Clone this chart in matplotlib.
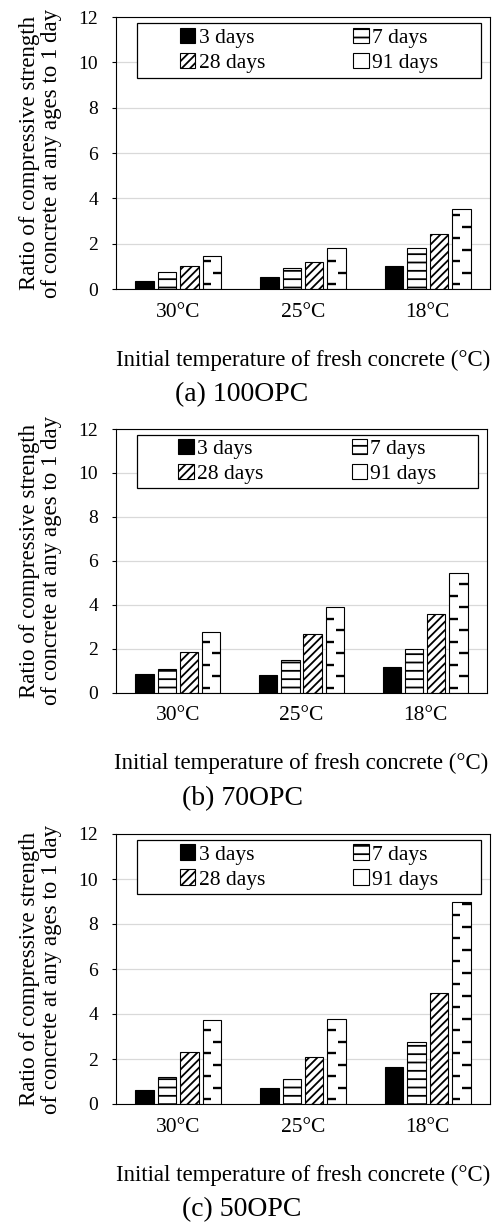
import numpy as np
import matplotlib
matplotlib.use('Agg')
import matplotlib.pyplot as plt
from matplotlib.patches import Rectangle

plt.rcParams['font.family'] = ['Liberation Serif', 'DejaVu Serif']
plt.rcParams['hatch.linewidth'] = 1.3

temps = ['30°C', '25°C', '18°C']
ages = ['3 days', '7 days', '28 days', '91 days']
captions = ['(a) 100OPC', '(b) 70OPC', '(c) 50OPC']

# ratio of strength to 1-day strength; rows = ages, cols = temps
opc100 = [[0.35, 0.51, 1.03],
          [0.73, 0.93, 1.79],
          [1.03, 1.18, 2.43],
          [1.46, 1.79, 3.53]]
opc70 = [[0.85, 0.81, 1.14],
         [1.05, 1.48, 1.98],
         [1.86, 2.67, 3.58],
         [2.76, 3.91, 5.44]]
opc50 = [[0.62, 0.73, 1.64],
         [1.19, 1.11, 2.76],
         [2.33, 2.07, 4.95],
         [3.73, 3.79, 8.99]]
panels = [opc100, opc70, opc50]

W, H = 500, 1223
# axes boxes in pixels: left, top, right, bottom
boxes = [(116, 17, 490, 289), (116, 429, 487, 692.5), (116, 834, 490, 1104)]

styles = [dict(facecolor='black', hatch=None),
          dict(facecolor='white', hatch='--'),
          dict(facecolor='white', hatch='////'),
          dict(facecolor='white', hatch=None)]

x = np.arange(len(temps))
pitch, bw = 0.18, 0.148


def dashes(ax, xc, w, h):
    # staggered short dashes, like the Excel "dashed horizontal" fill
    ppu = ax.bbox.height / 12.0
    y, left = 5.0 / ppu, True
    while y < h - 1.5 / ppu:
        if left:
            xs = [xc - w / 2, xc - w / 2 + 0.45 * w]
        else:
            xs = [xc + w / 2 - 0.45 * w, xc + w / 2]
        ax.plot(xs, [y, y], color='black', lw=1.7, solid_capstyle='butt', zorder=3)
        y += 11.5 / ppu
        left = not left


fig = plt.figure(figsize=(W / 100, H / 100), dpi=100)

for data, (l, t, r, b), cap in zip(panels, boxes, captions):
    ax = fig.add_axes([l / W, 1 - b / H, (r - l) / W, (b - t) / H])
    ax.set_xlim(-0.5, 2.5)
    ax.set_ylim(0, 12)
    ax.set_yticks(range(0, 13, 2))
    ax.set_axisbelow(True)
    ax.grid(True, axis='y', color='#d9d9d9', lw=0.9)

    handles = []
    for i, (vals, st) in enumerate(zip(data, styles)):
        xs = x + (i - 1.5) * pitch
        bars = ax.bar(xs, vals, width=bw, edgecolor='black', linewidth=0.8,
                      label=ages[i], zorder=2, **st)
        handles.append(bars)
        if i == 3:
            for xc, h in zip(xs, vals):
                dashes(ax, xc, bw, h)

    ax.set_xticks(x)
    ax.set_xticklabels(temps, fontsize=15.5)
    ax.tick_params(axis='x', length=0, pad=10)
    ax.tick_params(axis='y', direction='out', length=3, pad=10, labelsize=14)
    for s in ax.spines.values():
        s.set_color('black')
        s.set_linewidth(0.8)

    # legend box is wider than its entries in the original
    ax.add_patch(Rectangle((0.056, 0.777), 0.919, 0.202, transform=ax.transAxes,
                           facecolor='white', edgecolor='black', lw=0.9, zorder=4))
    leg = ax.legend([handles[0], handles[2], handles[1], handles[3]],
                    [ages[0], ages[2], ages[1], ages[3]],
                    ncol=2, loc='center', bbox_to_anchor=(0.516, 0.878),
                    frameon=False, fontsize=15.5, handlelength=0.72, handleheight=0.72,
                    handletextpad=0.15, columnspacing=4.1, labelspacing=0.22)
    leg.set_zorder(5)

    yc = 1 - (t + b) / 2 / H
    fig.text(40.5 / W, yc, 'Ratio of compressive strength\nof concrete at any ages to 1 day',
             rotation=90, ha='center', va='center', multialignment='center',
             fontsize=16.5, linespacing=1.12)
    fig.text((l + r) / 2 / W, 1 - (b + 71) / H, 'Initial temperature of fresh concrete (°C)',
             ha='center', va='center', fontsize=16.5)
    fig.text(242 / W, 1 - (b + 106) / H, cap, ha='center', va='center', fontsize=20)

fig.savefig('out.png', dpi=100)
